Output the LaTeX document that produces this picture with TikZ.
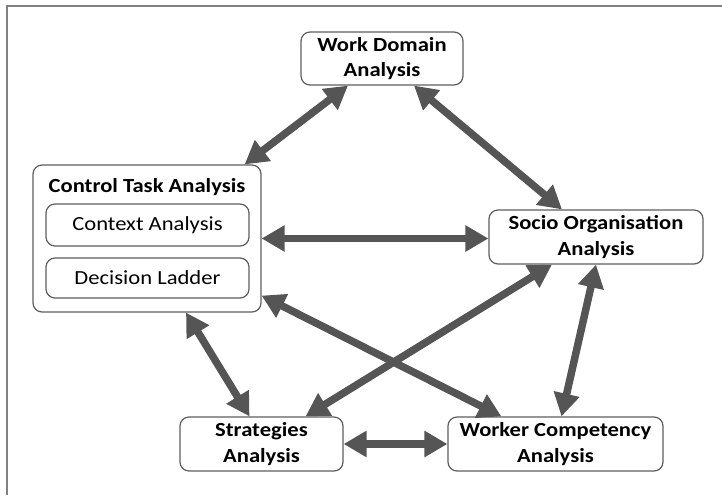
\documentclass[tikz,border=0pt]{standalone}
\usepackage{fontspec}
\setmainfont{Carlito}[FakeStretch=1.13]
\usepackage{tikz}
\usetikzlibrary{arrows.meta}
\definecolor{arrowgray}{HTML}{555555}
\definecolor{boxgray}{HTML}{5E5E5E}

\begin{document}
\begin{tikzpicture}[x=1pt,y=-1pt,
        box/.style={draw=boxgray,line width=1.2pt,rounded corners=9pt,align=center,inner sep=0pt,
            font=\fontsize{20}{25.5}\selectfont\bfseries},
        subbox/.style={box,font=\fontsize{20}{25.5}\selectfont},
        link/.style={draw=arrowgray,line width=7.5pt,
            {Triangle[length=23pt,width=25pt]}-{Triangle[length=23pt,width=25pt]}}]
            \useasboundingbox (0,0) rectangle (722,495);
            \draw[draw=gray,line width=1.5pt] (7,495) -- (7,6) -- (722,6);
            % the five analyses
            \node[box,minimum width=162pt,minimum height=53pt] (wd) at (382,58.5) {Work Domain\\Analysis};
            \node[box,minimum width=228pt,minimum height=147pt] (cta) at (147,238.5) {};
            \node[font=\fontsize{20}{25.5}\selectfont\bfseries] (ctatitle) at (147,187) {Control Task Analysis};
            \node[subbox,minimum width=203pt,minimum height=42pt] (ctx) at (147.5,225) {Context Analysis};
            \node[subbox,minimum width=203pt,minimum height=40pt] (dl) at (147.5,278) {Decision Ladder};
            \node[box,minimum width=214pt,minimum height=54pt] (soc) at (596,237) {Socio Organisation\\Analysis};
            \node[box,minimum width=163pt,minimum height=54pt] (str) at (261.5,444) {Strategies\\Analysis};
            \node[box,minimum width=215pt,minimum height=54pt] (wc) at (555.5,444) {Worker Competency\\Analysis};
            % links
            \draw[link] ([xshift=-34pt]wd.south) -- ([xshift=-17pt]cta.north east);
            \draw[link] ([xshift=32pt]wd.south) -- ([xshift=-34pt]soc.north);
            \draw[link] (cta.east) -- (cta.east -| soc.west);
            \draw[link] ([yshift=17pt]cta.south east) -- ([xshift=54pt]wc.north west);
            \draw[link] ([xshift=39pt]cta.south) -- ([xshift=-12pt]str.north);
            \draw[link] ([xshift=-44pt]soc.south) -- ([xshift=44pt]str.north);
            \draw[link] (soc.south) -- ([xshift=6pt]wc.north);
            \draw[link] (str.east) -- (wc.west);
        \end{tikzpicture}
\end{document}
